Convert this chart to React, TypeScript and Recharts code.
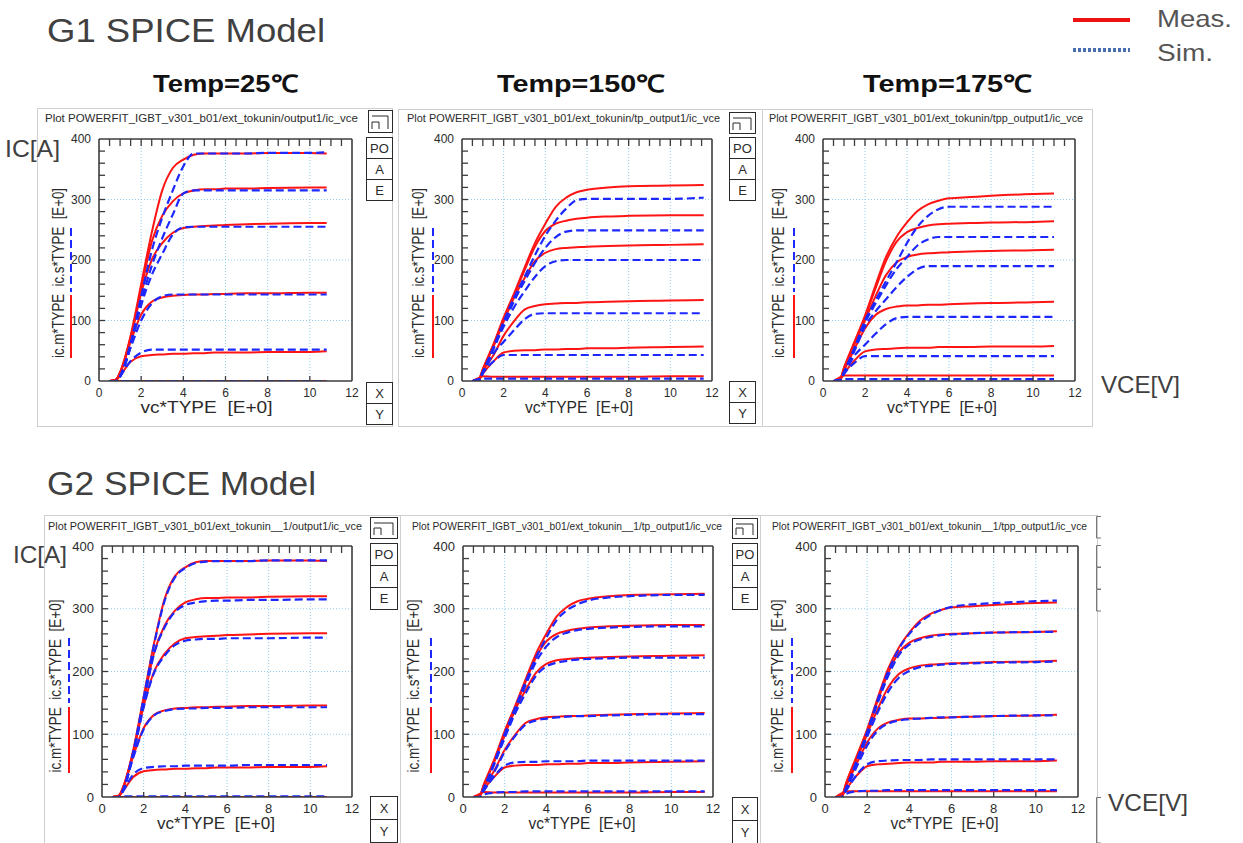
import React from "react";
import { LineChart, Line, XAxis, YAxis, CartesianGrid } from "recharts";

// ---------------------------------------------------------------------------
// VCE sample points (V) – one list per temperature
// ---------------------------------------------------------------------------
const vce25 = [0.5, 0.8, 1, 1.5, 2, 2.5, 3, 3.5, 4, 4.5, 5, 5.5, 6, 7, 8, 10, 10.8];
const vce150 = [0.5, 0.8, 1, 1.5, 2, 2.5, 3, 3.5, 4, 4.5, 5, 5.5, 6, 7, 8, 10, 11.6];
const vce175 = [0.5, 0.8, 1, 1.5, 2, 2.5, 3, 3.5, 4, 4.5, 5, 5.5, 6, 7, 8, 10, 11];

// axis ticks
const xTicks = [0, 2, 4, 6, 8, 10, 12];
const yTicks = [0, 100, 200, 300, 400];
const xMinorTicks = [0.5, 1, 1.5, 2, 2.5, 3, 3.5, 4, 4.5, 5, 5.5, 6, 6.5, 7, 7.5, 8, 8.5, 9, 9.5, 10, 10.5, 11, 11.5];
const yMinorTicks = [20, 40, 60, 80, 100, 120, 140, 160, 180, 200, 220, 240, 260, 280, 300, 320, 340, 360, 380];
const xGrid = [2, 4, 6, 8, 10];
const yGrid = [100, 200, 300];

// ---------------------------------------------------------------------------
// Measured IC (A), one row per gate voltage, same for G1 and G2 plots
// ---------------------------------------------------------------------------
const meas25 = [
  [0, 2, 15, 75, 160, 245, 315, 352, 366, 374, 376, 376, 376, 376, 377, 377, 376],
  [0, 2, 14, 72, 152, 230, 273, 297, 310, 315, 317, 317, 318, 318, 319, 320, 320],
  [0, 2, 13, 70, 145, 200, 228, 245, 253, 255, 256, 257, 258, 259, 260, 261, 261],
  [0, 2, 13, 65, 110, 131, 138, 141, 142, 143, 143, 144, 144, 145, 145, 146, 146],
  [0, 1, 9, 32, 41, 43, 44, 45, 45, 46, 46, 47, 47, 47, 48, 48, 49],
  [0, 0, 0, 0, 0, 0, 0, 0, 0, 0, 0, 0, 0, 0, 0, 0, 0],
];
const meas150 = [
  [0, 2, 20, 60, 105, 145, 187, 228, 260, 288, 303, 312, 316, 320, 322, 323, 324],
  [0, 2, 19, 58, 102, 142, 183, 222, 248, 260, 265, 268, 270, 272, 273, 274, 274],
  [0, 2, 18, 56, 98, 138, 170, 198, 212, 218, 220, 221, 222, 223, 224, 225, 226],
  [0, 2, 16, 42, 75, 99, 118, 124, 127, 128, 129, 129, 130, 131, 132, 133, 134],
  [0, 2, 12, 32, 47, 50, 51, 51, 52, 52, 53, 53, 54, 54, 55, 56, 57],
  [0, 5, 8, 7, 7, 7, 7, 7, 7, 7, 7, 7, 7, 7, 7, 8, 8],
];
const meas175 = [
  [0, 2, 22, 65, 108, 158, 205, 238, 262, 281, 292, 298, 302, 304, 306, 309, 310],
  [0, 2, 21, 63, 105, 153, 198, 230, 246, 253, 257, 259, 260, 261, 262, 263, 264],
  [0, 2, 20, 60, 100, 140, 175, 196, 205, 209, 211, 212, 213, 214, 215, 216, 217],
  [0, 2, 17, 53, 87, 109, 119, 123, 125, 125, 126, 126, 127, 128, 129, 130, 131],
  [0, 2, 12, 34, 49, 52, 53, 54, 55, 55, 55, 56, 56, 56, 57, 57, 58],
  [0, 6, 9, 9, 9, 9, 9, 9, 9, 9, 9, 9, 9, 9, 9, 9, 9],
];

// ---------------------------------------------------------------------------
// Simulated IC (A) – G1 model
// ---------------------------------------------------------------------------
const simG1_25 = [
  [0, 0, 8, 62, 140, 215, 270, 315, 355, 376, 376, 376, 376, 376, 377, 377, 378],
  [0, 0, 8, 60, 132, 190, 236, 275, 310, 315, 315, 315, 315, 315, 315, 315, 315],
  [0, 0, 7, 57, 125, 175, 210, 242, 254, 255, 255, 255, 255, 255, 255, 255, 255],
  [0, 0, 7, 55, 100, 128, 140, 143, 143, 143, 143, 143, 143, 143, 143, 143, 143],
  [0, 0, 8, 33, 47, 52, 52, 52, 52, 52, 52, 52, 52, 52, 52, 52, 52],
  [0, 0, 0, 0, 0, 0, 0, 0, 0, 0, 0, 0, 0, 0, 0, 0, 0],
];
const simG1_150 = [
  [0, 1, 15, 55, 98, 138, 172, 208, 240, 265, 285, 299, 301, 301, 301, 301, 303],
  [0, 1, 15, 54, 95, 132, 165, 195, 220, 238, 247, 249, 249, 249, 249, 249, 249],
  [0, 1, 14, 52, 90, 122, 148, 172, 190, 198, 200, 200, 200, 200, 200, 200, 200],
  [0, 1, 13, 45, 65, 84, 102, 111, 112, 112, 112, 112, 112, 112, 112, 112, 112],
  [0, 1, 13, 32, 43, 43, 43, 43, 43, 43, 43, 43, 43, 43, 43, 43, 43],
  [0, 3, 4, 4, 4, 4, 4, 4, 4, 4, 4, 4, 4, 4, 4, 4, 4],
];
const simG1_175 = [
  [0, 1, 15, 55, 100, 133, 165, 196, 228, 255, 273, 284, 288, 288, 288, 288, 288],
  [0, 1, 14, 53, 96, 128, 158, 185, 205, 224, 234, 238, 238, 238, 238, 238, 238],
  [0, 1, 13, 50, 90, 115, 135, 155, 172, 185, 190, 190, 190, 190, 190, 190, 190],
  [0, 1, 12, 42, 60, 78, 94, 104, 106, 106, 106, 106, 106, 106, 106, 106, 106],
  [0, 1, 12, 30, 41, 41, 41, 41, 41, 41, 41, 41, 41, 41, 41, 41, 41],
  [0, 2, 3, 3, 3, 3, 3, 3, 3, 3, 3, 3, 3, 3, 3, 3, 3],
];

// ---------------------------------------------------------------------------
// Simulated IC (A) – G2 model
// ---------------------------------------------------------------------------
const simG2_25 = [
  [0, 0, 10, 72, 158, 243, 312, 350, 365, 373, 375, 376, 376, 376, 377, 377, 377],
  [0, 0, 10, 70, 150, 228, 270, 295, 306, 310, 312, 313, 313, 314, 314, 315, 315],
  [0, 0, 10, 68, 143, 198, 225, 242, 249, 251, 252, 252, 253, 253, 253, 254, 254],
  [0, 0, 10, 63, 108, 130, 137, 140, 141, 141, 142, 142, 142, 143, 143, 143, 143],
  [0, 0, 9, 36, 46, 48, 49, 49, 50, 50, 50, 50, 50, 51, 51, 51, 51],
  [0, 0, 1, 1, 1, 1, 1, 1, 1, 1, 1, 1, 1, 1, 1, 1, 1],
];
const simG2_150 = [
  [0, 0, 14, 55, 100, 142, 183, 222, 254, 282, 298, 307, 313, 318, 320, 322, 322],
  [0, 0, 14, 54, 98, 138, 178, 215, 240, 255, 262, 266, 268, 270, 271, 272, 272],
  [0, 0, 13, 52, 94, 133, 165, 193, 208, 214, 217, 219, 220, 221, 222, 222, 222],
  [0, 0, 12, 40, 72, 97, 115, 122, 125, 127, 128, 129, 129, 130, 131, 132, 132],
  [0, 0, 10, 33, 50, 55, 56, 56, 57, 57, 57, 57, 58, 58, 58, 58, 58],
  [0, 0, 4, 7, 8, 8, 9, 9, 9, 9, 9, 9, 9, 9, 9, 9, 9],
];
const simG2_175 = [
  [0, 0, 14, 58, 104, 155, 200, 236, 260, 278, 290, 298, 303, 307, 309, 312, 313],
  [0, 0, 14, 56, 101, 150, 193, 226, 243, 251, 255, 258, 259, 261, 262, 263, 263],
  [0, 0, 13, 54, 96, 135, 168, 190, 201, 207, 209, 211, 212, 213, 214, 215, 216],
  [0, 0, 12, 48, 82, 106, 117, 122, 124, 125, 126, 127, 127, 128, 129, 130, 130],
  [0, 0, 10, 35, 52, 57, 58, 59, 59, 59, 60, 60, 60, 60, 60, 60, 60],
  [0, 0, 5, 9, 10, 10, 11, 11, 11, 11, 11, 11, 11, 11, 11, 11, 11],
];

// ---------------------------------------------------------------------------
// Styles
// ---------------------------------------------------------------------------
const FONT = "'Liberation Sans', Arial, sans-serif";
const RED = "#ff1414";
const BLUE = "#1c28ff";
const FRAME = "#3c3c3c";
const GRID = "#8fcbee";
const INK = "#2b2b2b";
const HEAD = "#404040";

// chart margins around the plot area
const ML = 72;
const MT = 12;
const MR = 12;
const MB = 46;

type Row = Record<string, number>;

function buildRows(vce: number[], meas: number[][], sim: number[][]): Row[] {
  return vce.map((v, i) => {
    const r: Row = { v };
    meas.forEach((c, k) => (r["m" + k] = c[i]));
    sim.forEach((c, k) => (r["s" + k] = c[i]));
    return r;
  });
}

type PanelSpec = {
  title: string;
  titleX: number;
  titleLen: number;
  titleY: number;
  left: number;
  top: number;
  w: number;
  h: number;
  vce: number[];
  meas: number[][];
  sim: number[][];
  fs: number;
  yLabOff: number;
  yLabMid: number;
  yLabLen: number;
  barOff: number;
  blueBar: [number, number];
  redBar: [number, number];
  xLabShift: number;
  xLabLen: number;
};

const row1 = { titleY: 122, top: 139, h: 242, fs: 12, yLabMid: 134, yLabLen: 170, blueBar: [89, 153] as [number, number], redBar: [156, 219] as [number, number] };
const row2 = { titleY: 530, top: 546, h: 251, fs: 13, yLabMid: 140, yLabLen: 173, blueBar: [92, 157] as [number, number], redBar: [161, 227] as [number, number] };

const panels: PanelSpec[] = [
  { ...row1, title: "Plot POWERFIT_IGBT_v301_b01/ext_tokunin/output1/ic_vce", titleX: 45, titleLen: 313, left: 99, w: 253, vce: vce25, meas: meas25, sim: simG1_25, yLabOff: 41, barOff: 28, xLabShift: -19, xLabLen: 132 },
  { ...row1, title: "Plot POWERFIT_IGBT_v301_b01/ext_tokunin/tp_output1/ic_vce", titleX: 407, titleLen: 313, left: 462, w: 250, vce: vce150, meas: meas150, sim: simG1_150, yLabOff: 44, barOff: 29, xLabShift: -8, xLabLen: 108 },
  { ...row1, title: "Plot POWERFIT_IGBT_v301_b01/ext_tokunin/tpp_output1/ic_vce", titleX: 769, titleLen: 314, left: 823, w: 252, vce: vce175, meas: meas175, sim: simG1_175, yLabOff: 45, barOff: 29, xLabShift: -7, xLabLen: 110 },
  { ...row2, title: "Plot POWERFIT_IGBT_v301_b01/ext_tokunin__1/output1/ic_vce", titleX: 48, titleLen: 314, left: 102, w: 250, vce: vce25, meas: meas25, sim: simG2_25, yLabOff: 47, barOff: 33, xLabShift: -11, xLabLen: 118 },
  { ...row2, title: "Plot POWERFIT_IGBT_v301_b01/ext_tokunin__1/tp_output1/ic_vce", titleX: 412, titleLen: 310, left: 463, w: 250, vce: vce150, meas: meas150, sim: simG2_150, yLabOff: 50, barOff: 32, xLabShift: -6, xLabLen: 107 },
  { ...row2, title: "Plot POWERFIT_IGBT_v301_b01/ext_tokunin__1/tpp_output1/ic_vce", titleX: 772, titleLen: 315, left: 825, w: 253, vce: vce175, meas: meas175, sim: simG2_175, yLabOff: 48, barOff: 33, xLabShift: -7, xLabLen: 108 },
];

// ---------------------------------------------------------------------------
// Axis titles (drawn through the axis label hook)
// ---------------------------------------------------------------------------
function YTitle({ s }: { s: PanelSpec }) {
  const cx = ML - s.yLabOff;
  const cy = MT + s.yLabMid;
  const bx = ML - s.barOff;
  return (
    <g>
      <text
        x={cx}
        y={cy}
        transform={`rotate(-90 ${cx} ${cy})`}
        textAnchor="middle"
        dominantBaseline="central"
        fontSize={16}
        fontFamily={FONT}
        fill={INK}
        textLength={s.yLabLen}
        lengthAdjust="spacingAndGlyphs"
      >
        {"ic.m*TYPE\u00a0\u00a0ic.s*TYPE\u00a0\u00a0[E+0]"}
      </text>
      <line x1={bx} x2={bx} y1={MT + s.blueBar[0]} y2={MT + s.blueBar[1]} stroke={BLUE} strokeWidth={2} strokeDasharray="8 4" />
      <line x1={bx} x2={bx} y1={MT + s.redBar[0]} y2={MT + s.redBar[1]} stroke={RED} strokeWidth={2} />
    </g>
  );
}

function XTitle({ s }: { s: PanelSpec }) {
  const cx = ML + s.w / 2 + s.xLabShift;
  const y = MT + s.h + 32;
  return (
    <text x={cx} y={y} textAnchor="middle" fontSize={17} fontFamily={FONT} fill={INK} textLength={s.xLabLen} lengthAdjust="spacingAndGlyphs">
      {"vc*TYPE\u00a0\u00a0[E+0]"}
    </text>
  );
}

// tick marks without labels
const NoLabel = () => <g />;

// ---------------------------------------------------------------------------
// One Ic–Vce plot
// ---------------------------------------------------------------------------
function IcVcePanel({ s }: { s: PanelSpec }) {
  const rows = buildRows(s.vce, s.meas, s.sim);
  const tickStyle = { fontSize: s.fs, fill: INK, fontFamily: FONT };
  return (
    <div style={{ position: "absolute", left: s.left - ML, top: s.top - MT }}>
      <LineChart width={ML + s.w + MR} height={MT + s.h + MB} data={rows} margin={{ top: MT, right: MR, bottom: 0, left: 0 }}>
        <CartesianGrid
          stroke={GRID}
          strokeDasharray="1 2"
          horizontalValues={yGrid}
          verticalValues={xGrid}
        />

        {/* measured: solid red */}
        {s.meas.map((_, k) => (
          <Line key={"m" + k} type="monotone" dataKey={"m" + k} stroke={RED} strokeWidth={2} dot={false} isAnimationActive={false} />
        ))}
        {/* simulated: dashed blue */}
        {s.sim.map((_, k) => (
          <Line key={"s" + k} type="monotone" dataKey={"s" + k} stroke={BLUE} strokeWidth={2.2} strokeDasharray="8 4" dot={false} isAnimationActive={false} />
        ))}

        {/* invisible series so the frame axes have something bound to them */}
        <Line xAxisId="top" yAxisId="leftIn" dataKey="m0" stroke="none" dot={false} legendType="none" isAnimationActive={false} />
        <Line xAxisId="bottomIn" yAxisId="right" dataKey="m0" stroke="none" dot={false} legendType="none" isAnimationActive={false} />

        <XAxis
          dataKey="v"
          type="number"
          domain={[0, 12]}
          ticks={xTicks}
          allowDataOverflow
          interval={0}
          height={MB}
          tickLine={false}
          tickSize={5}
          tick={tickStyle}
          axisLine={{ stroke: FRAME, strokeWidth: 1.6 }}
          label={() => <XTitle s={s} />}
        />
        <YAxis
          type="number"
          domain={[0, 400]}
          ticks={yTicks}
          allowDataOverflow
          interval={0}
          width={ML}
          tickLine={false}
          tickSize={6}
          tick={tickStyle}
          axisLine={{ stroke: FRAME, strokeWidth: 1.6 }}
          label={() => <YTitle s={s} />}
        />

        {/* inner tick marks and the rest of the frame */}
        <XAxis xAxisId="top" dataKey="v" orientation="top" type="number" domain={[0, 12]} ticks={xMinorTicks} allowDataOverflow interval={0} mirror height={1} tick={NoLabel} tickSize={7} tickLine={{ stroke: FRAME, strokeWidth: 1.3 }} axisLine={{ stroke: FRAME, strokeWidth: 1.6 }} />
        <XAxis xAxisId="bottomIn" dataKey="v" orientation="bottom" type="number" domain={[0, 12]} ticks={xGrid} allowDataOverflow interval={0} mirror height={1} tick={NoLabel} tickSize={5} tickLine={{ stroke: FRAME, strokeWidth: 1.3 }} axisLine={false} />
        <YAxis yAxisId="leftIn" orientation="left" type="number" domain={[0, 400]} ticks={yMinorTicks} allowDataOverflow interval={0} mirror width={1} tick={NoLabel} tickSize={6} tickLine={{ stroke: FRAME, strokeWidth: 1.3 }} axisLine={false} />
        <YAxis yAxisId="right" orientation="right" type="number" domain={[0, 400]} ticks={yTicks} allowDataOverflow mirror width={1} tick={NoLabel} tickLine={false} axisLine={{ stroke: FRAME, strokeWidth: 1.6 }} />
      </LineChart>
    </div>
  );
}

// ---------------------------------------------------------------------------
// Screenshot decorations: frames, side buttons, headings, legend
// ---------------------------------------------------------------------------
type Box = { x: number; y: number; w: number; h: number; t: string };

const sideButtons: Box[] = [
  // G1 25C
  { x: 366, y: 137, w: 26, h: 21, t: "PO" },
  { x: 366, y: 158, w: 26, h: 21, t: "A" },
  { x: 366, y: 179, w: 26, h: 21, t: "E" },
  { x: 366, y: 382, w: 26, h: 21, t: "X" },
  { x: 366, y: 403, w: 26, h: 21, t: "Y" },
  // G1 150C
  { x: 729, y: 137, w: 26, h: 21, t: "PO" },
  { x: 729, y: 158, w: 26, h: 21, t: "A" },
  { x: 729, y: 179, w: 26, h: 21, t: "E" },
  { x: 729, y: 381, w: 26, h: 21, t: "X" },
  { x: 729, y: 402, w: 26, h: 21, t: "Y" },
  // G2 25C
  { x: 370, y: 543, w: 27, h: 22, t: "PO" },
  { x: 370, y: 565, w: 27, h: 22, t: "A" },
  { x: 370, y: 587, w: 27, h: 22, t: "E" },
  { x: 370, y: 796, w: 27, h: 23, t: "X" },
  { x: 370, y: 819, w: 27, h: 23, t: "Y" },
  // G2 150C
  { x: 732, y: 543, w: 25, h: 22, t: "PO" },
  { x: 732, y: 565, w: 25, h: 22, t: "A" },
  { x: 732, y: 587, w: 25, h: 22, t: "E" },
  { x: 732, y: 797, w: 25, h: 23, t: "X" },
  { x: 732, y: 820, w: 25, h: 23, t: "Y" },
];

const iconButtons = [
  { x: 368, y: 110, w: 24, h: 22 },
  { x: 729, y: 112, w: 26, h: 21 },
  { x: 370, y: 517, w: 27, h: 21 },
  { x: 732, y: 518, w: 25, h: 20 },
];

const screenFrames = [
  { x: 37, y: 108, w: 355, h: 318 },
  { x: 398, y: 109, w: 365, h: 317 },
  { x: 762, y: 109, w: 330, h: 317 },
  { x: 44, y: 515, w: 356, h: 340 },
  { x: 400, y: 515, w: 360, h: 340 },
  { x: 760, y: 515, w: 337, h: 340 },
];

// clipped buttons at the right edge of the last G2 shot
const clippedButtons = [
  { y: 516, h: 22 },
  { y: 545, h: 22 },
  { y: 567, h: 22 },
  { y: 589, h: 22 },
  { y: 797, h: 46 },
];

function Decorations() {
  return (
    <svg width={1243} height={843} style={{ position: "absolute", left: 0, top: 0 }} fontFamily={FONT}>
      {screenFrames.map((f, i) => (
        <rect key={"f" + i} x={f.x + 0.5} y={f.y + 0.5} width={f.w} height={f.h} fill="#fff" stroke="#cfcfcf" />
      ))}

      {panels.map((p, i) => (
        <text key={"t" + i} x={p.titleX} y={p.titleY} fontSize={10.5} fill={INK} textLength={p.titleLen} lengthAdjust="spacingAndGlyphs">
          {p.title}
        </text>
      ))}

      {iconButtons.map((b, i) => (
        <g key={"i" + i} fill="none" stroke={INK} strokeWidth={1}>
          <rect x={b.x + 0.5} y={b.y + 0.5} width={b.w} height={b.h} fill="#fff" />
          <polyline points={`${b.x + 4},${b.y + 6} ${b.x + b.w - 4},${b.y + 6} ${b.x + b.w - 4},${b.y + b.h - 3}`} />
          <polyline points={`${b.x + 4},${b.y + b.h - 3} ${b.x + 4},${b.y + b.h - 10} ${b.x + 11},${b.y + b.h - 10} ${b.x + 11},${b.y + b.h - 3}`} />
        </g>
      ))}

      {sideButtons.map((b, i) => (
        <g key={"b" + i}>
          <rect x={b.x + 0.5} y={b.y + 0.5} width={b.w} height={b.h} fill="#fff" stroke={INK} />
          <text x={b.x + b.w / 2 + 0.5} y={b.y + b.h / 2 + 5} textAnchor="middle" fontSize={13} fill={INK}>
            {b.t}
          </text>
        </g>
      ))}

      {clippedButtons.map((b, i) => (
        <path key={"c" + i} d={`M1101,${b.y + 0.5} H1096.5 V${b.y + b.h} H1101`} fill="none" stroke="#777" />
      ))}

      {/* headings */}
      <text x={47} y={42} fontSize={33} fill={HEAD} textLength={278} lengthAdjust="spacingAndGlyphs">G1 SPICE Model</text>
      <text x={47} y={495} fontSize={33} fill={HEAD} textLength={269} lengthAdjust="spacingAndGlyphs">G2 SPICE Model</text>

      <text x={153} y={92} fontSize={24} fontWeight="bold" fill="#111" textLength={145} lengthAdjust="spacingAndGlyphs">Temp=25℃</text>
      <text x={497} y={92} fontSize={24} fontWeight="bold" fill="#111" textLength={168} lengthAdjust="spacingAndGlyphs">Temp=150℃</text>
      <text x={863} y={92} fontSize={24} fontWeight="bold" fill="#111" textLength={169} lengthAdjust="spacingAndGlyphs">Temp=175℃</text>

      {/* legend */}
      <line x1={1073} x2={1130} y1={20} y2={20} stroke="#ee1111" strokeWidth={4} />
      <text x={1157} y={27} fontSize={24} fill="#555" textLength={75} lengthAdjust="spacingAndGlyphs">Meas.</text>
      <line x1={1073} x2={1130} y1={50} y2={50} stroke="#4a6fae" strokeWidth={4} strokeDasharray="3 2" />
      <text x={1157} y={61} fontSize={24} fill="#555" textLength={56} lengthAdjust="spacingAndGlyphs">Sim.</text>

      {/* axis captions */}
      <text x={5} y={157} fontSize={24} fill={HEAD} textLength={55} lengthAdjust="spacingAndGlyphs">IC[A]</text>
      <text x={13} y={563} fontSize={24} fill={HEAD} textLength={54} lengthAdjust="spacingAndGlyphs">IC[A]</text>
      <text x={1101} y={393} fontSize={24} fill={HEAD} textLength={79} lengthAdjust="spacingAndGlyphs">VCE[V]</text>
      <text x={1108} y={811} fontSize={24} fill={HEAD} textLength={80} lengthAdjust="spacingAndGlyphs">VCE[V]</text>
    </svg>
  );
}

export default function App() {
  return (
    <div style={{ position: "absolute", left: 0, top: 0, width: 1243, height: 843, background: "#fff", overflow: "hidden", fontFamily: FONT }}>
      <Decorations />
      {panels.map((p, i) => (
        <IcVcePanel key={i} s={p} />
      ))}
    </div>
  );
}
